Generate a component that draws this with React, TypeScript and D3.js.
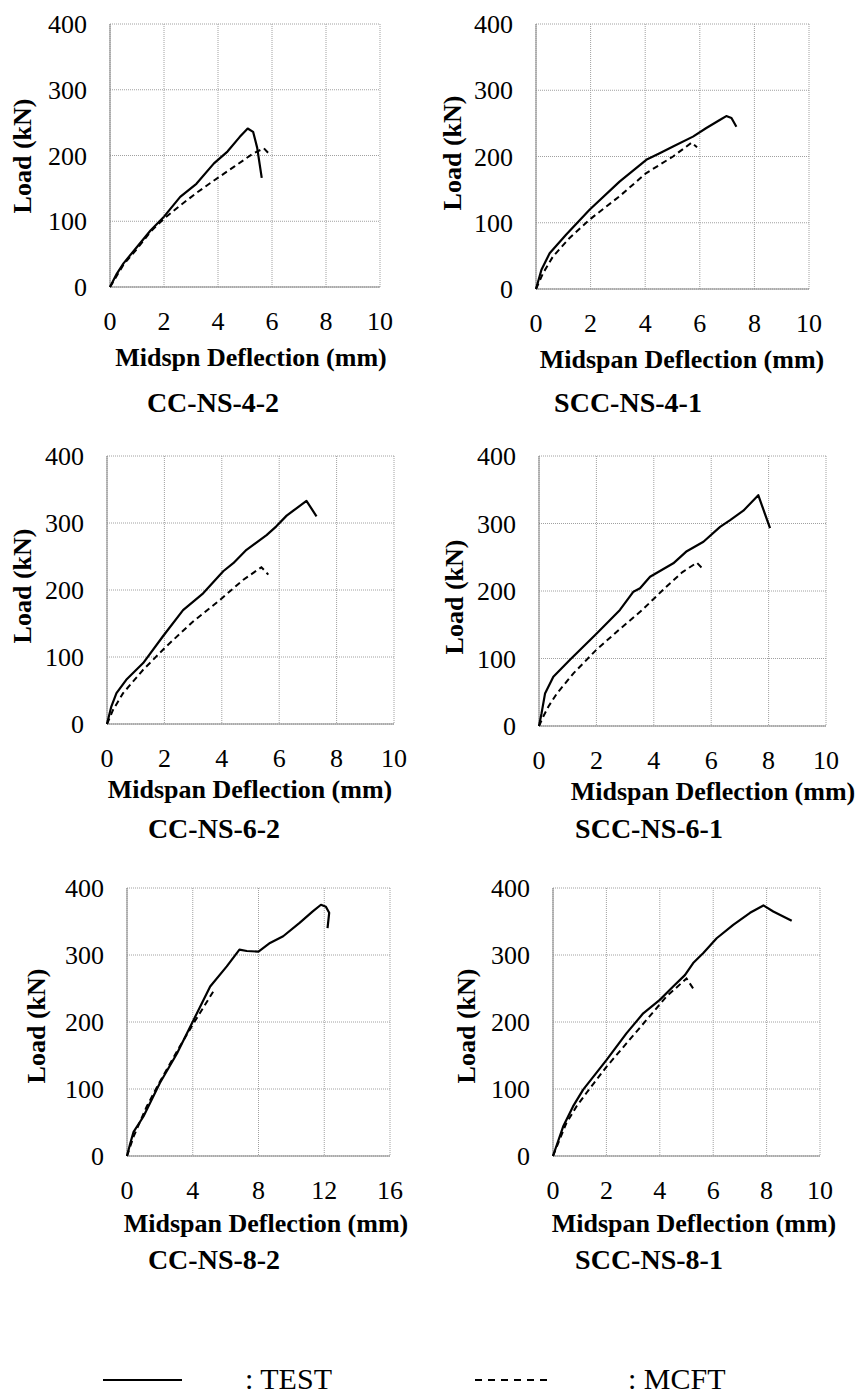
import React from 'react';
import * as d3 from 'd3';

// load-deflection curves: [deflection mm, load kN]
const cc42Test = [[0, 0], [0.25, 20], [0.5, 36], [0.9, 56], [1.5, 86], [2.0, 107], [2.6, 137], [3.2, 157], [3.85, 188], [4.35, 206], [4.8, 228], [5.1, 241], [5.3, 236], [5.45, 212], [5.62, 166]];
const cc42Mcft = [[0, 0], [0.5, 34], [1.0, 58], [1.5, 84], [2.0, 104], [2.6, 124], [3.2, 143], [3.85, 162], [4.6, 183], [5.3, 203], [5.7, 211], [5.95, 200]];

const scc41Test = [[0, 0], [0.2, 29], [0.5, 54], [1.1, 82], [1.97, 120], [3.06, 162], [4.04, 195], [4.53, 205], [5.02, 215], [5.75, 230], [6.24, 243], [6.73, 255], [6.97, 261], [7.16, 258], [7.34, 245]];
const scc41Mcft = [[0, 0], [0.26, 24], [0.62, 49], [1.23, 77], [1.97, 105], [3.06, 140], [4.04, 175], [5.02, 200], [5.7, 221], [5.9, 214]];

const cc62Test = [[0, 0], [0.15, 26], [0.33, 46], [0.67, 66], [1.26, 91], [1.95, 131], [2.65, 170], [3.35, 195], [4.05, 228], [4.4, 240], [4.86, 260], [5.56, 282], [5.9, 295], [6.26, 311], [6.6, 322], [6.95, 333], [7.3, 310]];
const cc62Mcft = [[0, 0], [0.21, 21], [0.56, 46], [1.26, 81], [2.07, 116], [3.0, 153], [3.93, 185], [4.74, 215], [5.38, 234], [5.62, 223]];

const scc61Test = [[0, 0], [0.09, 19], [0.21, 48], [0.5, 73], [1.08, 98], [2.01, 137], [2.82, 172], [3.29, 199], [3.52, 204], [3.87, 221], [4.68, 241], [5.15, 259], [5.73, 273], [6.31, 295], [6.66, 305], [7.12, 319], [7.64, 342], [8.05, 293]];
const scc61Mcft = [[0, 0], [0.15, 14], [0.33, 29], [0.62, 48], [1.2, 78], [2.0, 113], [2.8, 143], [3.6, 172], [4.4, 205], [5.0, 228], [5.5, 242], [5.75, 231]];

const cc82Test = [[0, 0], [0.2, 19], [0.4, 36], [1.0, 59], [2.0, 109], [3.04, 153], [4.05, 203], [5.06, 253], [6.07, 283], [6.84, 308], [7.29, 306], [8.0, 305], [8.7, 318], [9.5, 328], [10.5, 348], [11.3, 365], [11.8, 375], [12.1, 372], [12.3, 363], [12.2, 340]];
const cc82Mcft = [[0, 0], [0.4, 29], [1.2, 74], [2.0, 111], [3.2, 163], [4.05, 198], [5.26, 246]];

const scc81Test = [[0, 0], [0.38, 44], [0.75, 74], [1.13, 99], [2.0, 143], [2.75, 183], [3.38, 213], [4.0, 233], [4.5, 253], [4.94, 270], [5.25, 288], [5.63, 303], [6.13, 325], [6.75, 345], [7.38, 363], [7.88, 374], [8.25, 365], [8.94, 351]];
const scc81Mcft = [[0, 0], [0.5, 49], [0.88, 74], [1.25, 94], [2.0, 133], [2.75, 168], [3.5, 203], [4.25, 238], [5.0, 265], [5.25, 250]];

const loadTicks = [0, 100, 200, 300, 400];
const defTicks10 = [0, 2, 4, 6, 8, 10];
const defTicks16 = [0, 4, 8, 12, 16];

const panels = [
  { name: 'CC-NS-4-2', xLabel: 'Midspn Deflection (mm)', test: cc42Test, mcft: cc42Mcft, ticks: defTicks10, box: [110, 24, 380, 287], yl: [22, 156], xl: [251, 366], tt: [213, 412] },
  { name: 'SCC-NS-4-1', xLabel: 'Midspan Deflection (mm)', test: scc41Test, mcft: scc41Mcft, ticks: defTicks10, box: [536, 24, 809, 289], yl: [452, 153], xl: [682, 368], tt: [628, 412] },
  { name: 'CC-NS-6-2', xLabel: 'Midspan Deflection (mm)', test: cc62Test, mcft: cc62Mcft, ticks: defTicks10, box: [107, 456, 394, 724], yl: [22, 586], xl: [250, 798], tt: [214, 838] },
  { name: 'SCC-NS-6-1', xLabel: 'Midspan Deflection (mm)', test: scc61Test, mcft: scc61Mcft, ticks: defTicks10, box: [539, 456, 826, 726], yl: [454, 597], xl: [713, 800], tt: [649, 838] },
  { name: 'CC-NS-8-2', xLabel: 'Midspan Deflection (mm)', test: cc82Test, mcft: cc82Mcft, ticks: defTicks16, box: [127, 888, 390, 1156], yl: [36, 1026], xl: [266, 1232], tt: [214, 1269] },
  { name: 'SCC-NS-8-1', xLabel: 'Midspan Deflection (mm)', test: scc81Test, mcft: scc81Mcft, ticks: defTicks10, box: [553, 888, 820, 1156], yl: [466, 1026], xl: [694, 1232], tt: [649, 1269] },
];

const serif = 'Liberation Serif';

function Panel({ p }: { p: any }) {
  const [x0, y0, x1, y1] = p.box;
  const xMax = p.ticks[p.ticks.length - 1];
  const x = d3.scaleLinear().domain([0, xMax]).range([x0, x1]);
  const y = d3.scaleLinear().domain([0, 400]).range([y1, y0]);
  const line = d3.line<number[]>().x(d => x(d[0])).y(d => y(d[1]));
  return (
    <g>
      {p.ticks.map((t: number) => (
        <line key={'gx' + t} x1={x(t)} x2={x(t)} y1={y0} y2={y1} stroke="#a0a0a0" strokeWidth={1} strokeDasharray="1,1" />
      ))}
      {loadTicks.map(t => (
        <line key={'gy' + t} x1={x0} x2={x1} y1={y(t)} y2={y(t)} stroke="#a0a0a0" strokeWidth={1} strokeDasharray="1,1" />
      ))}
      <line x1={x0} x2={x0} y1={y0} y2={y1} stroke="#868686" strokeWidth={1} />
      <line x1={x0} x2={x1} y1={y1} y2={y1} stroke="#868686" strokeWidth={1} />
      {loadTicks.map(t => (
        <text key={'ty' + t} x={x0 - 23} y={y(t)} dy="0.35em" textAnchor="end" fontSize={26} fontFamily={serif}>{t}</text>
      ))}
      {p.ticks.map((t: number) => (
        <text key={'tx' + t} x={x(t)} y={y1 + 34} dy="0.35em" textAnchor="middle" fontSize={26} fontFamily={serif}>{t}</text>
      ))}
      <path d={line(p.mcft) || ''} fill="none" stroke="#000" strokeWidth={2} strokeDasharray="6,4" />
      <path d={line(p.test) || ''} fill="none" stroke="#000" strokeWidth={2.2} strokeLinejoin="round" />
      <text transform={`translate(${p.yl[0]},${p.yl[1]}) rotate(-90)`} dy="0.35em" textAnchor="middle" fontSize={26} fontWeight="bold" fontFamily={serif}>Load (kN)</text>
      <text x={p.xl[0]} y={p.xl[1]} textAnchor="middle" fontSize={26} fontWeight="bold" fontFamily={serif}>{p.xLabel}</text>
      <text x={p.tt[0]} y={p.tt[1]} textAnchor="middle" fontSize={28} fontWeight="bold" fontFamily={serif}>{p.name}</text>
    </g>
  );
}

export default function App() {
  return (
    <svg width={864} height={1398} style={{ position: 'absolute', left: 0, top: 0, background: '#fff' }}>
      <rect width={864} height={1398} fill="#fff" />
      {panels.map(p => <Panel key={p.name} p={p} />)}
      <line x1={103} x2={182} y1={1380} y2={1380} stroke="#000" strokeWidth={2} />
      <text x={245} y={1389} fontSize={30} fontFamily={serif}>: TEST</text>
      <line x1={475} x2={550} y1={1380} y2={1380} stroke="#000" strokeWidth={2} strokeDasharray="7,6" />
      <text x={628} y={1389} fontSize={30} fontFamily={serif}>: MCFT</text>
    </svg>
  );
}
